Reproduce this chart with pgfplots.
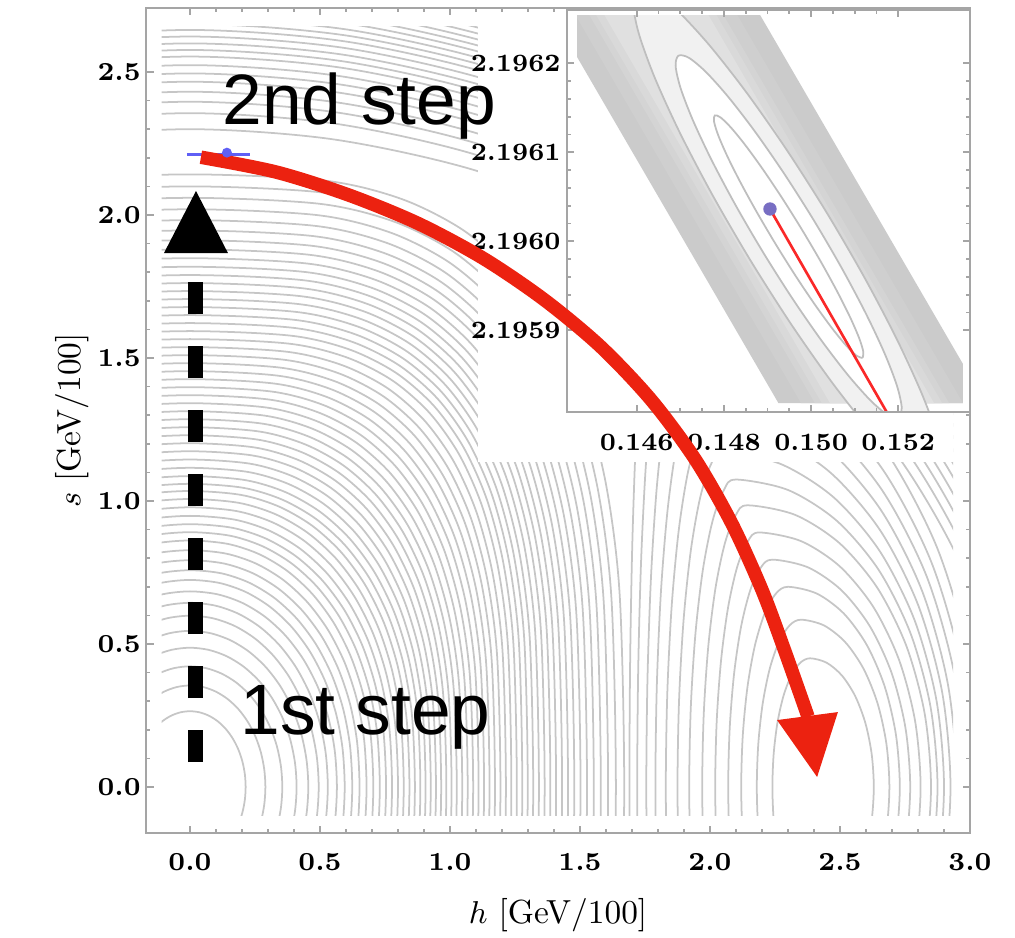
\documentclass[border=0pt]{standalone}
\usepackage{fontspec}
\newfontfamily\stepfont{Liberation Sans}
\usepackage{pgfplots}
\usepackage{pgfplotstable}
\pgfplotsset{compat=1.18}

\definecolor{cgray}{RGB}{198,198,198}
\definecolor{framegray}{RGB}{165,165,165}
\definecolor{arrowred}{RGB}{236,34,16}
\definecolor{minblue}{RGB}{95,95,245}
\definecolor{dotpurple}{RGB}{120,110,195}
\definecolor{band0}{RGB}{203,203,203}
\definecolor{band1}{RGB}{207,207,207}
\definecolor{band2}{RGB}{212,212,212}
\definecolor{band3}{RGB}{217,217,217}
\definecolor{band4}{RGB}{224,224,224}
\definecolor{band5}{RGB}{241,241,241}
\definecolor{insetline}{RGB}{190,190,190}
\definecolor{insetred}{RGB}{250,40,40}

% unit quarter arcs (circle c2/s2, superellipse p=3 c3/s3), by angle
\pgfplotstableread{
th    c2      s2      c3      s3
-40   0.7660 -0.6428  0.8372 -0.7448
-30   0.8660 -0.5000  0.9086 -0.6300
-20   0.9397 -0.3420  0.9594 -0.4890
-10   0.9848 -0.1736  0.9898 -0.3112
0     1.0000  0.0000  1.0000  0.0000
10    0.9848  0.1736  0.9898  0.3112
20    0.9397  0.3420  0.9594  0.4890
30    0.8660  0.5000  0.9086  0.6300
40    0.7660  0.6428  0.8372  0.7448
50    0.6428  0.7660  0.7448  0.8372
60    0.5000  0.8660  0.6300  0.9086
70    0.3420  0.9397  0.4890  0.9594
80    0.1736  0.9848  0.3112  0.9898
90    0.0000  1.0000  0.0000  1.0000
100  -0.1736  0.9848 -0.3112  0.9898
110  -0.3420  0.9397 -0.4890  0.9594
120  -0.5000  0.8660 -0.6300  0.9086
130  -0.6428  0.7660 -0.7448  0.8372
}\unitarc

% loops round the h-minimum: left and right half widths apart
\pgfplotstableread{
th    cl      cr      s
-30   0       0.8660 -0.5000
-15   0       0.9659 -0.2588
0     0       1.0000  0.0000
15    0       0.9659  0.2588
30    0       0.8660  0.5000
45    0       0.7071  0.7071
60    0       0.5000  0.8660
75    0       0.2588  0.9659
90    0       0       1.0000
105  -0.2588  0       0.9659
120  -0.5000  0       0.8660
135  -0.7071  0       0.7071
150  -0.8660  0       0.5000
165  -0.9659  0       0.2588
180  -1.0000  0       0.0000
195  -0.9659  0      -0.2588
210  -0.8660  0      -0.5000
}\loopshape

% closed unit circle for the inset ellipses
\pgfplotstableread{
th   c        s
0    1.0000   0.0000
15   0.9659   0.2588
30   0.8660   0.5000
45   0.7071   0.7071
60   0.5000   0.8660
75   0.2588   0.9659
90   0.0000   1.0000
105 -0.2588   0.9659
120 -0.5000   0.8660
135 -0.7071   0.7071
150 -0.8660   0.5000
165 -0.9659   0.2588
180 -1.0000   0.0000
195 -0.9659  -0.2588
210 -0.8660  -0.5000
225 -0.7071  -0.7071
240 -0.5000  -0.8660
255 -0.2588  -0.9659
270  0.0000  -1.0000
285  0.2588  -0.9659
300  0.5000  -0.8660
315  0.7071  -0.7071
330  0.8660  -0.5000
345  0.9659  -0.2588
360  1.0000   0.0000
}\unitring

\pgfplotsset{
  cont/.style={no marks, smooth, draw=cgray, line width=0.5pt},
  ticklab/.style={font=\fontsize{7.4}{9}\selectfont\bfseries},
}

\begin{document}
\begin{tikzpicture}
\useasboundingbox (-1.90,-1.50) rectangle (8.25,7.87);

% contour lines
\begin{axis}[
  at={(-0.2834cm,-0.2803cm)}, anchor=south west,
  x=2.6cm, y=2.86cm,
  xmin=-0.109, xmax=2.935, ymin=-0.098, ymax=2.659,
  hide axis,
]
% loops round the maximum at the origin
\foreach \Aa/\Ab/\Aw in {
  0.214/0.265/0, 0.29/0.355/0, 0.355/0.422/0, 0.41/0.487/0, 0.455/0.546/0,
  0.495/0.599/0.03, 0.53/0.644/0.06, 0.565/0.684/0.09, 0.595/0.724/0.12,
  0.624/0.758/0.15, 0.652/0.793/0.18, 0.679/0.828/0.21, 0.705/0.862/0.24,
  0.730/0.891/0.27, 0.754/0.919/0.30, 0.777/0.948/0.33, 0.800/0.978/0.36,
  0.822/1.007/0.39, 0.844/1.035/0.42, 0.865/1.060/0.45, 0.886/1.087/0.48,
  0.906/1.116/0.51, 0.926/1.145/0.54, 0.946/1.174/0.57, 0.966/1.202/0.60,
  0.986/1.230/0.63, 1.006/1.258/0.66, 1.026/1.286/0.69, 1.047/1.314/0.72,
  1.068/1.342/0.75, 1.089/1.370/0.78, 1.110/1.398/0.81, 1.131/1.426/0.84,
  1.152/1.454/0.87, 1.173/1.482/0.90, 1.194/1.510/0.93, 1.215/1.538/0.96,
  1.236/1.566/0.99, 1.257/1.594/1, 1.278/1.622/1, 1.299/1.650/1,
  1.320/1.678/1, 1.342/1.706/1, 1.364/1.734/1, 1.386/1.762/1,
  1.408/1.790/1, 1.431/1.819/1, 1.454/1.849/1, 1.478/1.880/1,
  1.502/1.912/1, 1.527/1.946/1, 1.553/1.982/1, 1.580/2.020/1,
  1.608/2.060/1, 1.638/2.100/1, 1.670/2.142/1}{
  \addplot[cont] table[x expr={\Aa*(\thisrow{c2}+\Aw*(\thisrow{c3}-\thisrow{c2}))},
                       y expr={\Ab*(\thisrow{s2}+\Aw*(\thisrow{s3}-\thisrow{s2}))}] {\unitarc};
}
% loops round the minimum on the h axis: tip h, tip s, left and right widths
\foreach \Ht/\Hs/\Wl/\Wr in {
  2.385/0.45/0.145/0.245, 2.35/0.585/0.17/0.34, 2.30/0.70/0.18/0.43,
  2.24/0.795/0.17/0.53, 2.19/0.89/0.17/0.62, 2.145/0.985/0.175/0.705,
  2.10/1.075/0.18/0.775, 2.05/1.17/0.175/0.85, 2.0/1.27/0.17/0.925,
  1.95/1.37/0.16/1.0, 1.89/1.47/0.135/1.09, 1.83/1.57/0.11/1.18,
  1.77/1.67/0.08/1.275}{
  \addplot[cont] table[x expr={\Ht+\thisrow{cl}*\Wl+\thisrow{cr}*\Wr},
                       y expr={\Hs*\thisrow{s}}] {\loopshape};
}
% outer contours
\foreach \Oa/\Ob in {
  3.15/2.300, 3.18/2.356, 3.21/2.396, 3.24/2.431, 3.27/2.466,
  3.295/2.495, 3.32/2.524, 3.345/2.554, 3.37/2.577, 3.395/2.600,
  3.42/2.624, 3.445/2.647, 3.47/2.668, 3.495/2.689, 3.52/2.710,
  3.545/2.730, 3.57/2.750, 3.595/2.770, 3.62/2.790, 3.645/2.810}{
  \addplot[cont] table[x expr={\Oa*\thisrow{c2}}, y expr={\Ob*\thisrow{s2}}] {\unitarc};
}
% blank corner behind the inset
\addplot[draw=none, fill=white] coordinates {(1.109,1.137) (3.2,1.137) (3.2,2.8) (1.109,2.8)} -- cycle;
\end{axis}

% frame, ticks and labels
\begin{axis}[
  at={(-0.4394cm,-0.4605cm)}, anchor=south west,
  x=2.6cm, y=2.86cm,
  xmin=-0.169, xmax=3.0, ymin=-0.161, ymax=2.724,
  axis line style={framegray, line width=0.6pt},
  tick style={framegray, line width=0.5pt},
  tick align=inside,
  major tick length=0.075cm, minor tick length=0.04cm,
  xtick={0,0.5,1,1.5,2,2.5,3}, ytick={0,0.5,1,1.5,2,2.5},
  minor x tick num=4, minor y tick num=4,
  /pgf/number format/fixed, /pgf/number format/fixed zerofill,
  /pgf/number format/precision=1, /pgf/number format/assume math mode=true,
  tick label style={ticklab},
  xticklabel style={yshift=-0.08cm},
  yticklabel style={xshift=0.07cm},
  xlabel={$h$ [GeV/100]}, ylabel={$s$ [GeV/100]},
  label style={font=\fontsize{9.5}{11}\selectfont},
  xlabel style={at={(axis description cs:0.5,-0.0994)}, anchor=center},
  ylabel style={at={(axis description cs:-0.09,0.5)}, anchor=center},
]
\end{axis}

% inset
\begin{axis}[
  at={(3.77cm,3.75cm)}, anchor=south west,
  width=4.03cm, height=4.02cm, scale only axis,
  xmin=144.40, xmax=153.645, ymin=-1.918, ymax=2.599,
  axis on top,
  axis background/.style={fill=white},
  axis line style={framegray, line width=0.6pt},
  tick style={framegray, line width=0.5pt},
  tick align=inside,
  major tick length=0.07cm, minor tick length=0.04cm,
  xtick={146,148,150,152}, xticklabels={0.146,0.148,0.150,0.152},
  ytick={-1,0,1,2}, yticklabels={2.1959,2.1960,2.1961,2.1962},
  minor x tick num=3, minor y tick num=4,
  tick label style={font=\fontsize{7.1}{9}\selectfont\bfseries},
  xticklabel style={yshift=-0.1cm},
  yticklabel style={xshift=0.06cm},
]
% steep walls of the valley, lighter toward its floor
\addplot[draw=none, fill=band0] coordinates {(144.631,2.543) (148.83,2.543) (153.484,-1.378) (153.484,-1.817) (149.25,-1.817) (144.631,2.071)} -- cycle;
\addplot[draw=none, fill=band1] coordinates {(144.631,2.543) (148.307,2.543) (153.484,-1.817) (149.768,-1.817) (144.631,2.510)} -- cycle;
\addplot[draw=none, fill=band2] coordinates {(144.911,2.543) (147.989,2.543) (153.165,-1.817) (150.087,-1.817)} -- cycle;
\addplot[draw=none, fill=band3] coordinates {(145.069,2.543) (147.830,2.543) (153.007,-1.817) (150.245,-1.817)} -- cycle;
\addplot[draw=none, fill=band4] coordinates {(145.257,2.543) (147.644,2.543) (152.821,-1.817) (150.433,-1.817)} -- cycle;
% closed contours round the minimum: half length and half width terms
\addplot[smooth, draw=insetline, fill=band5, line width=0.5pt]
  table[x expr={149.486+3.459*\thisrow{c}+0.8814*\thisrow{s}},
        y expr={0.052-2.783*\thisrow{c}+0.2629*\thisrow{s}}] {\unitring};
\addplot[smooth, draw=insetline, fill=white, line width=0.5pt]
  table[x expr={149.486+2.528*\thisrow{c}+0.5876*\thisrow{s}},
        y expr={0.052-2.034*\thisrow{c}+0.1753*\thisrow{s}}] {\unitring};
\addplot[smooth, draw=insetline, line width=0.5pt]
  table[x expr={149.486+1.694*\thisrow{c}+0.2938*\thisrow{s}},
        y expr={0.052-1.3626*\thisrow{c}+0.0876*\thisrow{s}}] {\unitring};
% cover the margin above the contour area
\addplot[draw=none, fill=white] coordinates {(144.3,2.543) (153.8,2.543) (153.8,2.7) (144.3,2.7)} -- cycle;
\addplot[insetred, line width=0.75pt] coordinates {(149.057,0.363) (151.83,-2.0)};
\addplot[only marks, mark=*, mark size=1.7pt, color=dotpurple] coordinates {(149.057,0.363)};
\end{axis}

% steps
\begin{axis}[
  at={(-0.4394cm,-0.4605cm)}, anchor=south west,
  x=2.6cm, y=2.86cm,
  xmin=-0.169, xmax=3.0, ymin=-0.161, ymax=2.724,
  hide axis, clip=false,
]
\addplot[minblue, line width=0.03cm] coordinates {(-0.012,2.213) (0.231,2.213)};
\addplot[only marks, mark=*, mark size=1.2pt, color=minblue] coordinates {(0.142,2.218)};
\addplot[black, line width=0.15cm, dash pattern=on 0.32cm off 0.32cm] coordinates {(0.023,0.087) (0.023,1.766)};
\addplot[draw=none, fill=black] coordinates {(-0.100,1.867) (0.146,1.867) (0.023,2.084)} -- cycle;
\addplot[arrowred, line width=0.135cm, smooth] coordinates {
  (0.042,2.202) (0.332,2.150) (0.610,2.070) (0.876,1.971) (1.127,1.849)
  (1.362,1.704) (1.579,1.540) (1.774,1.353) (1.942,1.147) (2.083,0.923)
  (2.200,0.689) (2.286,0.480) (2.377,0.246)};
\addplot[draw=none, fill=arrowred] coordinates {(2.258,0.234) (2.492,0.262) (2.412,0.035)} -- cycle;
\node[anchor=base west, inner sep=0] at (axis cs:0.122,2.315) {\stepfont\fontsize{20.3}{24}\selectfont 2nd step};
\node[anchor=base west, inner sep=0] at (axis cs:0.192,0.182) {\stepfont\fontsize{20.3}{24}\selectfont 1st step};
\end{axis}
\end{tikzpicture}
\end{document}
